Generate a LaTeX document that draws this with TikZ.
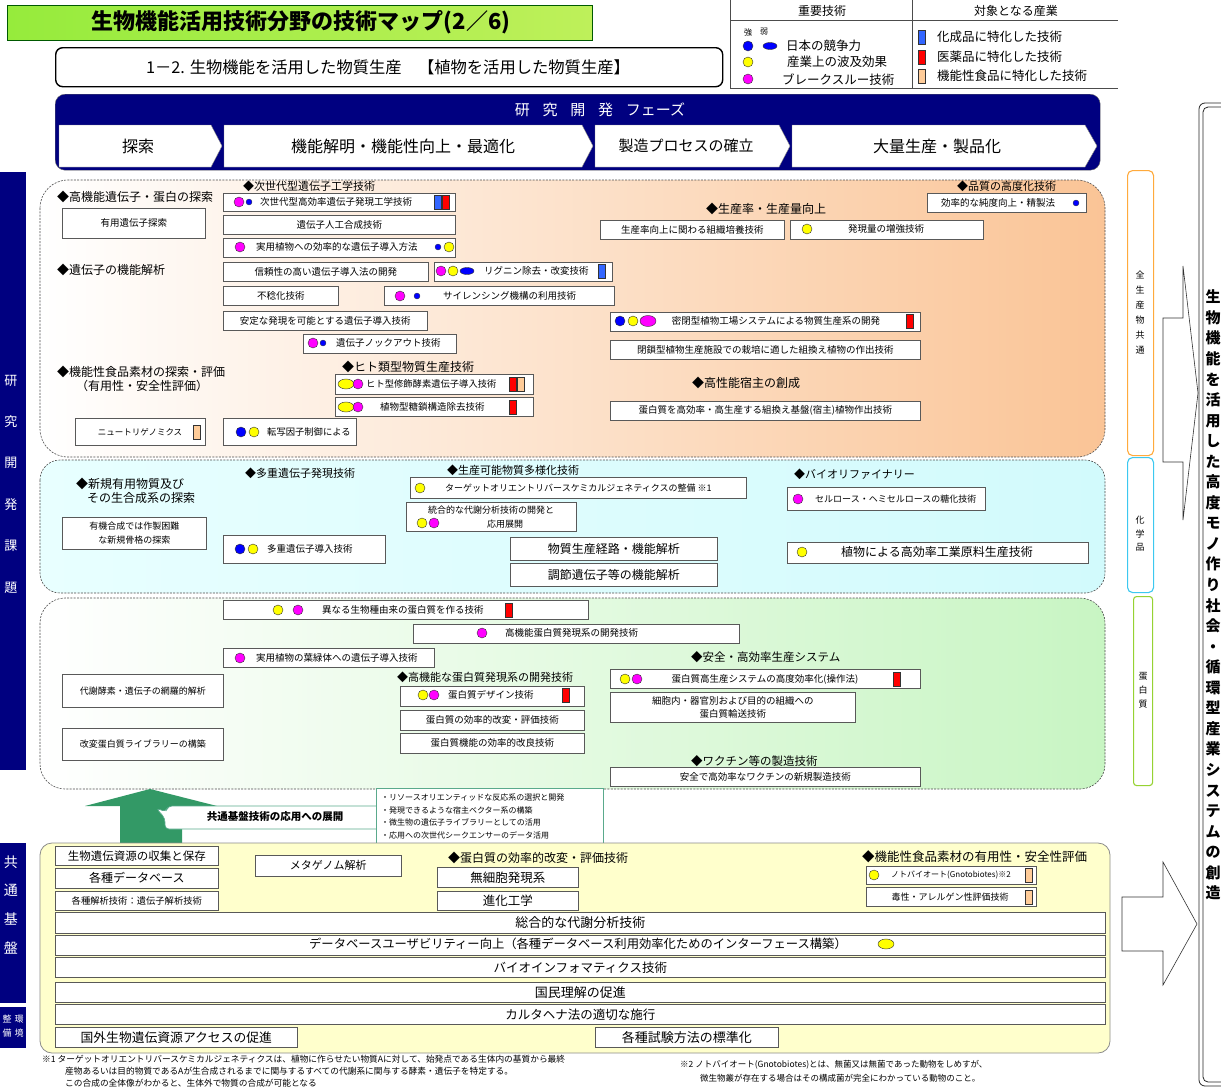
\documentclass[tikz,border=0pt]{standalone}
\usepackage{fontspec}
\setmainfont{Noto Sans CJK JP}
\usetikzlibrary{shadows}
\definecolor{navy}{RGB}{0,0,128}
\definecolor{mblue}{RGB}{0,0,255}
\definecolor{myel}{RGB}{255,255,0}
\definecolor{mmag}{RGB}{255,0,255}
\definecolor{rblue}{RGB}{51,102,255}
\definecolor{rred}{RGB}{255,0,0}
\definecolor{rtan}{RGB}{255,204,153}
\definecolor{peach}{RGB}{250,196,150}
\definecolor{lcyanl}{RGB}{232,255,255}
\definecolor{lcyanr}{RGB}{210,250,252}
\definecolor{lgreen}{RGB}{200,245,195}
\definecolor{lyel}{RGB}{255,255,204}
\definecolor{agreen}{RGB}{51,153,102}
\definecolor{tgreen}{RGB}{90,170,140}
\definecolor{borange}{RGB}{255,170,60}
\definecolor{bcyan}{RGB}{60,200,240}
\definecolor{bgreen}{RGB}{150,210,50}
\definecolor{titl}{RGB}{150,235,60}
\definecolor{titr}{RGB}{190,240,90}
\newcommand\fs[1]{\fontsize{#1}{#1}\selectfont}
\newcommand\bx[7][]{\node[box,#1,minimum width={(#5-#3)*1pt},minimum height={(#6-#4)*1pt},anchor=north west] (#2) at (#3,#4) {#7};}
\newcommand\mkB[2]{\filldraw[fill=mblue,draw=black!80,line width=.4pt] (#1,#2) circle[radius=5pt];}
\newcommand\mkb[2]{\filldraw[fill=mblue,draw=black!80,line width=.3pt] (#1,#2) circle[radius=3pt];}
\newcommand\mkY[2]{\filldraw[fill=myel,draw=black!80,line width=.4pt] (#1,#2) circle[radius=5pt];}
\newcommand\mkM[2]{\filldraw[fill=mmag,draw=black!80,line width=.4pt] (#1,#2) circle[radius=5pt];}
\newcommand\mkEB[2]{\filldraw[fill=mblue,draw=black!80,line width=.4pt] (#1,#2) ellipse[x radius=7pt,y radius=3.5pt];}
\newcommand\mkEY[2]{\filldraw[fill=myel,draw=black!80,line width=.4pt] (#1,#2) ellipse[x radius=8pt,y radius=5pt];}
\newcommand\mkEM[2]{\filldraw[fill=mmag,draw=black!80,line width=.4pt] (#1,#2) ellipse[x radius=8pt,y radius=5.5pt];}
\newcommand\rkB[2]{\filldraw[fill=rblue,draw=black!80,line width=.4pt] (#1-3.5,#2-7) rectangle (#1+3.5,#2+7);}
\newcommand\rkR[2]{\filldraw[fill=rred,draw=black!80,line width=.4pt] (#1-3.5,#2-7) rectangle (#1+3.5,#2+7);}
\newcommand\rkT[2]{\filldraw[fill=rtan,draw=black!80,line width=.4pt] (#1-3.5,#2-7) rectangle (#1+3.5,#2+7);}
\begin{document}
\begin{tikzpicture}[x=1pt,y=-1pt,
  box/.style={draw=black!65,fill=white,line width=.6pt,inner sep=0pt,font=\fs{9.5},
    general shadow={shadow xshift=.9pt,shadow yshift=-.9pt,fill=black!35}},
  txt/.style={inner sep=0pt,anchor=west,font=\fs{9.5}},
  lbl/.style={inner sep=0pt,anchor=west,font=\fs{11.5}},
  wt/.style={inner sep=0pt,text=white},
  sect/.style={draw=black!70,dash pattern=on 2pt off 1.3pt,line width=.6pt},
  chev/.style={fill=white,draw=black!50,line width=.4pt}]
\useasboundingbox (0,0) rectangle (1221,1092);
\fill[white] (0,0) rectangle (1221,1092);

% ---------- title ----------
\shade[left color=titl,middle color=yellow,right color=titr] (7,5) rectangle (592,40);
\draw[green!35!black,line width=.6pt] (7,5) rectangle (592,40);
\node[inner sep=0pt,font=\fs{22}\bfseries] (title) at (301,22) {生物機能活用技術分野の技術マップ(2／6)};
\node[draw,line width=1.4pt,rounded corners=7pt,minimum width=667pt,minimum height=39pt,anchor=north west,inner sep=0pt] (sub) at (55,47) {};
\node[inner sep=0pt,font=\fs{16.3}] (subt) at (388,67) {1－2. 生物機能を活用した物質生産　【植物を活用した物質生産】};

% ---------- legend ----------
\draw[black!70,line width=.6pt] (730,0) -- (730,88) (730,20) -- (1118,20) (730,88) -- (1118,88) (912,0) -- (912,88);
\node[inner sep=0pt,font=\fs{12}] (lh1) at (822,11) {重要技術};
\node[inner sep=0pt,font=\fs{12}] (lh2) at (1016,11) {対象となる産業};
\node[inner sep=0pt,font=\fs{8}] (lstr) at (748,32) {強};
\node[inner sep=0pt,font=\fs{8}] (lweak) at (764,32) {弱};
\mkB{748}{46}\mkEB{770}{46}\mkY{748}{62}\mkM{748}{79}
\node[txt,font=\fs{12.5}] (lt1) at (786,46) {日本の競争力};
\node[txt,font=\fs{12.5}] (lt2) at (787,62) {産業上の波及効果};
\node[txt,font=\fs{12.5}] (lt3) at (782,80) {ブレークスルー技術};
\rkB{922}{37}\rkR{922}{57}\rkT{922}{76}
\node[txt,font=\fs{12.5}] (lt4) at (937,37) {化成品に特化した技術};
\node[txt,font=\fs{12.5}] (lt5) at (937,57) {医薬品に特化した技術};
\node[txt,font=\fs{12.5}] (lt6) at (937,76) {機能性食品に特化した技術};

% ---------- phase bar ----------
\node[fill=navy,draw=black!60,rounded corners=10pt,minimum width=1045pt,minimum height=76pt,anchor=north west,inner sep=0pt] (phase) at (55,94) {};
\node[wt,font=\fs{15}] (phaset) at (600,110) {研\hspace{.85em}究\hspace{.85em}開\hspace{.85em}発\hspace{.85em}フェーズ};
\draw[chev] (59,125) -- (211,125) -- (222,146) -- (211,167) -- (59,167) -- cycle;
\draw[chev] (224,125) -- (582,125) -- (593,146) -- (582,167) -- (224,167) -- cycle;
\draw[chev] (595,125) -- (779,125) -- (790,146) -- (779,167) -- (595,167) -- cycle;
\draw[chev] (792,125) -- (1085,125) -- (1097,146) -- (1085,167) -- (792,167) -- cycle;
\node[inner sep=0pt,font=\fs{16}] (ph1) at (138,146) {探索};
\node[inner sep=0pt,font=\fs{16}] (ph2) at (403,146) {機能解明・機能性向上・最適化};
\node[inner sep=0pt,font=\fs{15}] (ph3) at (686,146) {製造プロセスの確立};
\node[inner sep=0pt,font=\fs{16}] (ph4) at (937,146) {大量生産・製品化};

% ---------- left bars ----------
\node[fill=navy,minimum width=26pt,minimum height=598pt,anchor=north west,inner sep=0pt] (lb1) at (0,172) {};
\node[wt,font=\fs{13}] (v1) at (11,381) {研};
\node[wt,font=\fs{13}] (v2) at (11,422) {究};
\node[wt,font=\fs{13}] (v3) at (11,463) {開};
\node[wt,font=\fs{13}] (v4) at (11,505) {発};
\node[wt,font=\fs{13}] (v5) at (11,546) {課};
\node[wt,font=\fs{13}] (v6) at (11,588) {題};
\node[fill=navy,minimum width=26pt,minimum height=160pt,anchor=north west,inner sep=0pt] (lb2) at (0,843) {};
\node[wt,font=\fs{14}] (w1) at (11,862) {共};
\node[wt,font=\fs{14}] (w2) at (11,890) {通};
\node[wt,font=\fs{14}] (w3) at (11,919) {基};
\node[wt,font=\fs{14}] (w4) at (11,948) {盤};
\node[fill=navy,minimum width=26pt,minimum height=41pt,anchor=north west,inner sep=0pt] (lb3) at (0,1007) {};
\node[wt,font=\fs{9}] (z1) at (7,1019) {整};
\node[wt,font=\fs{9}] (z2) at (19,1019) {環};
\node[wt,font=\fs{9}] (z3) at (7,1033) {備};
\node[wt,font=\fs{9}] (z4) at (19,1033) {境};

% ---------- sections ----------
\shade[left color=white,right color=peach,rounded corners=28pt] (40,180) rectangle (1105,457);
\draw[sect,rounded corners=28pt] (40,180) rectangle (1105,457);
\shade[left color=lcyanl,right color=lcyanr,rounded corners=20pt] (40,460) rectangle (1105,593);
\draw[sect,rounded corners=20pt] (40,460) rectangle (1105,593);
\shade[left color=white,right color=lgreen,rounded corners=25pt] (40,598) rectangle (1105,789);
\draw[sect,rounded corners=25pt] (40,598) rectangle (1105,789);

% ---------- section 1 ----------
\node[lbl,font=\fs{12}] (l1) at (57,197) {◆高機能遺伝子・蛋白の探索};
\bx{b1}{62}{208}{205}{238}{有用遺伝子探索}
\node[lbl,font=\fs{11}] (l2) at (243,186) {◆次世代型遺伝子工学技術};
\bx{a1}{223}{193}{455}{211}{}
\mkM{239}{202}\mkb{249}{202}\rkB{438}{202}\rkR{446}{202}
\node[txt] (a1t) at (260,202) {次世代型高効率遺伝子発現工学技術};
\bx{a2}{223}{215}{455}{234}{遺伝子人工合成技術}
\bx{a3}{223}{238}{455}{257}{}
\mkM{240}{247}\mkb{438}{247}\mkY{449}{247}
\node[txt] (a3t) at (256,247) {実用植物への効率的な遺伝子導入方法};
\node[lbl,font=\fs{12}] (l3) at (57,270) {◆遺伝子の機能解析};
\bx{bb1}{223}{262}{428}{281}{信頼性の高い遺伝子導入法の開発}
\bx{bb2}{434}{262}{612}{281}{}
\mkM{441}{271}\mkY{453}{271}\mkEB{467}{271}\rkB{602}{271}
\node[txt] (bb2t) at (484,271) {リグニン除去・改変技術};
\bx{bb3}{223}{286}{338}{305}{不稔化技術}
\bx{bb4}{384}{286}{614}{305}{}
\mkM{400}{296}\mkb{417}{296}
\node[txt] (bb4t) at (443,296) {サイレンシング機構の利用技術};
\bx{bb5}{223}{311}{427}{330}{安定な発現を可能とする遺伝子導入技術}
\bx{bb6}{303}{334}{456}{353}{}
\mkM{313}{343}\mkb{323}{343}
\node[txt] (bb6t) at (336,343) {遺伝子ノックアウト技術};
\node[lbl,font=\fs{12}] (l4) at (57,372) {◆機能性食品素材の探索・評価};
\node[lbl,font=\fs{12}] (l4b) at (76,386) {（有用性・安全性評価）};
\node[lbl,font=\fs{12}] (l5) at (342,367) {◆ヒト類型物質生産技術};
\bx{c1}{335}{374}{533}{394}{}
\mkEY{346}{384}\mkM{358}{384}\rkR{513}{384}\rkT{521}{384}
\node[txt,font=\fs{9.3}] (c1t) at (366,384) {ヒト型修飾酵素遺伝子導入技術};
\bx{c2}{335}{397}{533}{416}{}
\mkEY{346}{407}\mkM{358}{407}\rkR{513}{407}
\node[txt] (c2t) at (380,407) {植物型糖鎖構造除去技術};
\bx{d1}{75}{418}{205}{445}{}
\rkT{197}{432}
\node[inner sep=0pt,font=\fs{8.5}] (d1t) at (140,432) {ニュートリゲノミクス};
\bx{d2}{223}{418}{356}{445}{}
\mkB{241}{432}\mkY{254}{432}
\node[txt,font=\fs{9.3}] (d2t) at (267,432) {転写因子制御による};
\node[lbl,font=\fs{11}] (l6) at (957,186) {◆品質の高度化技術};
\bx{e1}{927}{193}{1086}{212}{}
\mkb{1076}{203}
\node[inner sep=0pt,font=\fs{9.5}] (e1t) at (998,203) {効率的な純度向上・精製法};
\node[lbl,font=\fs{12}] (l7) at (706,209) {◆生産率・生産量向上};
\bx{f1}{600}{220}{784}{239}{生産率向上に関わる組織培養技術}
\bx{f2}{790}{220}{983}{239}{}
\mkY{807}{229}
\node[inner sep=0pt,font=\fs{9.5}] (f2t) at (886,229) {発現量の増強技術};
\bx{g1}{610}{312}{920}{331}{}
\mkB{620}{321}\mkY{633}{321}\mkEM{648}{321}\rkR{910}{321}
\node[inner sep=0pt,font=\fs{9.5}] (g1t) at (776,321) {密閉型植物工場システムによる物質生産系の開発};
\bx{g2}{610}{340}{920}{359}{閉鎖型植物生産施設での栽培に適した組換え植物の作出技術}
\node[lbl,font=\fs{12}] (l8) at (692,383) {◆高性能宿主の創成};
\bx{h1}{610}{401}{920}{420}{蛋白質を高効率・高生産する組換え基盤(宿主)植物作出技術}

% ---------- section 2 ----------
\node[lbl,font=\fs{12}] (l9) at (76,484) {◆新規有用物質及び};
\node[lbl,font=\fs{12}] (l9b) at (87,498) {その生合成系の探索};
\bx[align=center,font=\fontsize{9}{14}\selectfont]{i1}{62}{517}{206}{549}{有機合成では作製困難\\な新規骨格の探索}
\node[lbl,font=\fs{11}] (l10) at (245,473) {◆多重遺伝子発現技術};
\bx{i2}{223}{535}{385}{563}{}
\mkB{240}{549}\mkY{253}{549}
\node[txt] (i2t) at (267,549) {多重遺伝子導入技術};
\node[lbl,font=\fs{11}] (l11) at (447,470) {◆生産可能物質多様化技術};
\bx{j1}{410}{477}{746}{498}{}
\mkY{420}{488}
\node[txt,font=\fs{9}] (j1t) at (445,488) {ターゲットオリエントリバースケミカルジェネティクスの整備 ※1};
\bx{j2}{406}{502}{576}{531}{}
\mkY{422}{523}\mkM{434}{523}
\node[inner sep=0pt,font=\fs{9}] (j2t) at (491,510) {統合的な代謝分析技術の開発と};
\node[inner sep=0pt,font=\fs{9}] (j2u) at (505,524) {応用展開};
\bx[font=\fs{12}]{j3}{510}{537}{717}{560}{物質生産経路・機能解析}
\bx[font=\fs{12}]{j4}{510}{563}{717}{586}{調節遺伝子等の機能解析}
\node[lbl,font=\fs{11}] (l12) at (794,474) {◆バイオリファイナリー};
\bx{k1}{787}{487}{985}{510}{}
\mkM{798}{499}
\node[txt,font=\fs{9}] (k1t) at (815,499) {セルロース・ヘミセルロースの糖化技術};
\bx{k2}{787}{542}{1088}{563}{}
\mkY{802}{552}
\node[inner sep=0pt,font=\fs{12}] (k2t) at (937,552) {植物による高効率工業原料生産技術};

% ---------- section 3 ----------
\bx{m1a}{223}{600}{588}{619}{}
\mkY{278}{610}\mkM{298}{610}\rkR{509}{610}
\node[txt] (m1at) at (322,610) {異なる生物種由来の蛋白質を作る技術};
\bx{m1b}{413}{624}{739}{643}{}
\mkM{482}{633}
\node[txt] (m1bt) at (505,633) {高機能蛋白質発現系の開発技術};
\bx{m1c}{223}{648}{434}{667}{}
\mkM{240}{658}
\node[txt] (m1ct) at (256,658) {実用植物の葉緑体への遺伝子導入技術};
\node[lbl,font=\fs{11.5}] (l13) at (691,657) {◆安全・高効率生産システム};
\node[lbl,font=\fs{11}] (l14) at (397,677) {◆高機能な蛋白質発現系の開発技術};
\bx[font=\fs{9}]{m1}{62}{674}{223}{707}{代謝酵素・遺伝子の網羅的解析}
\bx[font=\fs{9}]{m2}{62}{728}{223}{760}{改変蛋白質ライブラリーの構築}
\bx{n1}{400}{686}{584}{706}{}
\mkY{423}{695}\mkM{434}{695}\rkR{566}{695}
\node[txt] (n1t) at (448,695) {蛋白質デザイン技術};
\bx{n2}{400}{710}{584}{730}{蛋白質の効率的改変・評価技術}
\bx{n3}{400}{733}{584}{753}{蛋白質機能の効率的改良技術}
\bx{o1}{610}{669}{920}{688}{}
\mkY{625}{679}\mkM{637}{679}\rkR{897}{679}
\node[inner sep=0pt,font=\fs{9.5}] (o1t) at (765,679) {蛋白質高生産システムの高度効率化(操作法)};
\bx[align=center,font=\fontsize{9.5}{13.5}\selectfont]{o2}{610}{692}{855}{722}{細胞内・器官別および目的の組織への\\蛋白質輸送技術}
\node[lbl,font=\fs{11.5}] (l15) at (691,761) {◆ワクチン等の製造技術};
\bx{p1}{610}{767}{920}{786}{安全で高効率なワクチンの新規製造技術}

% ---------- middle ----------
\fill[agreen] (150,789) -- (217,806) -- (182,806) -- (182,843) -- (120,843) -- (120,806) -- (85,806) -- cycle;
\filldraw[fill=white,draw=tgreen,line width=.6pt,rounded corners=4pt] (168,806) -- (383,806) -- (383,829) -- (165,829) -- (165,818) -- (156,808) -- (166,812) -- cycle;
\node[inner sep=0pt,font=\fs{10.5}\bfseries] (cb) at (275,817) {共通基盤技術の応用への展開};
\node[draw=tgreen,fill=white,line width=.6pt,minimum width=227pt,minimum height=55pt,anchor=north west,inner sep=0pt] (blist) at (376,788) {};
\node[txt,font=\fs{8}] (bl1) at (381,797) {・リソースオリエンティッドな反応系の選択と開発};
\node[txt,font=\fs{8}] (bl2) at (381,810) {・発現できるような宿主ベクター系の構築};
\node[txt,font=\fs{8}] (bl3) at (381,822) {・微生物の遺伝子ライブラリーとしての活用};
\node[txt,font=\fs{8}] (bl4) at (381,835) {・応用への次世代シークエンサーのデータ活用};

% ---------- bottom ----------
\filldraw[fill=lyel,draw=black!45,line width=.8pt,rounded corners=12pt] (40,843) rectangle (1110,1053);
\bx[font=\fs{11.5}]{q1}{55}{846}{218}{865}{生物遺伝資源の収集と保存}
\bx[font=\fs{12}]{q2}{55}{868}{218}{888}{各種データベース}
\bx[font=\fs{9.3}]{q3}{55}{891}{218}{910}{各種解析技術：遺伝子解析技術}
\bx[font=\fs{11}]{q4}{255}{855}{401}{876}{メタゲノム解析}
\node[lbl,font=\fs{12}] (l16) at (448,858) {◆蛋白質の効率的改変・評価技術};
\bx[font=\fs{12.5}]{q5}{437}{867}{578}{887}{無細胞発現系}
\bx[font=\fs{12.5}]{q6}{437}{891}{578}{910}{進化工学}
\node[lbl,font=\fs{12.5}] (l17) at (862,857) {◆機能性食品素材の有用性・安全性評価};
\bx{q7}{866}{866}{1036}{884}{}
\mkY{874}{875}\rkT{1029}{875}
\node[txt,font=\fs{8}] (q7t) at (891,875) {ノトバイオート(Gnotobiotes)※2};
\bx{q8}{866}{887}{1036}{906}{}
\rkT{1029}{897}
\node[inner sep=0pt,font=\fs{9}] (q8t) at (950,897) {毒性・アレルゲン性評価技術};
\bx[font=\fs{13}]{r1}{55}{912}{1105}{933}{総合的な代謝分析技術}
\bx[font=\fs{12.3}]{r2}{55}{935}{1105}{955}{}
\node[inner sep=0pt,font=\fs{12.3}] (r2t) at (578,944) {データベースユーザビリティー向上（各種データベース利用効率化ためのインターフェース構築）};
\mkEY{886}{944}
\bx[font=\fs{12.5}]{r3}{55}{957}{1105}{977}{バイオインフォマティクス技術}
\bx[font=\fs{13}]{s1}{55}{982}{1105}{1002}{国民理解の促進}
\bx[font=\fs{12.5}]{s2}{55}{1004}{1105}{1024}{カルタヘナ法の適切な施行}
\bx[font=\fs{12.8}]{s3}{55}{1027}{297}{1047}{国外生物遺伝資源アクセスの促進}
\bx[font=\fs{13}]{s4}{595}{1027}{778}{1047}{各種試験方法の標準化}

% ---------- footnotes ----------
\node[txt,font=\fs{8.7}] (fn1) at (42,1059) {※1 ターゲットオリエントリバースケミカルジェネティクスは、植物に作らせたい物質Aに対して、始発点である生体内の基質から最終};
\node[txt,font=\fs{8.7}] (fn2) at (65,1071) {産物あるいは目的物質であるAが生合成されるまでに関与するすべての代謝系に関与する酵素・遺伝子を特定する。};
\node[txt,font=\fs{8.7}] (fn3) at (65,1083) {この合成の全体像がわかると、生体外で物質の合成が可能となる};
\node[txt,font=\fs{8.5}] (fn4) at (680,1065) {※2 ノトバイオート(Gnotobiotes)とは、無菌又は無菌であった動物をしめすが、};
\node[txt,font=\fs{8.5}] (fn5) at (700,1078) {微生物叢が存在する場合はその構成菌が完全にわかっている動物のこと。};

% ---------- right side ----------
\node[draw=borange,line width=1.1pt,rounded corners=5pt,minimum width=26pt,minimum height=285pt,anchor=north west,inner sep=0pt] (rs1) at (1127,170) {};
\node[inner sep=0pt,align=center,font=\fontsize{9}{15}\selectfont] (rs1t) at (1140,313) {全\\生\\産\\物\\共\\通};
\node[draw=bcyan,line width=1.1pt,rounded corners=5pt,minimum width=26pt,minimum height=135pt,anchor=north west,inner sep=0pt] (rs2) at (1127,457) {};
\node[inner sep=0pt,align=center,font=\fontsize{9}{13.5}\selectfont] (rs2t) at (1140,534) {化\\学\\品};
\node[draw=bgreen,line width=1.1pt,rounded corners=3pt,minimum width=19pt,minimum height=189pt,anchor=north west,inner sep=0pt] (rs3) at (1133,596) {};
\node[inner sep=0pt,align=center,font=\fontsize{9}{14}\selectfont] (rs3t) at (1143,690) {蛋\\白\\質};
\filldraw[fill=white,draw=black!80,line width=.6pt] (1163,318) -- (1183,318) -- (1183,266) -- (1198,393) -- (1183,520) -- (1183,462) -- (1163,462) -- cycle;
\filldraw[fill=white,draw=black!80,line width=.6pt] (1122,897) -- (1163,897) -- (1163,862) -- (1197,924) -- (1163,985) -- (1163,951) -- (1122,951) -- cycle;
\draw[black!85,line width=.8pt,rounded corners=6pt] (1199,103) rectangle (1250,1086);
\draw[black!85,line width=.8pt,rounded corners=5pt] (1203,107) rectangle (1250,1082);
\node[inner sep=0pt,align=center,font=\fontsize{15}{20.55}\selectfont\bfseries] (rbig) at (1213,595) {生\\物\\機\\能\\を\\活\\用\\し\\た\\高\\度\\モ\\ノ\\作\\り\\社\\会\\・\\循\\環\\型\\産\\業\\シ\\ス\\テ\\ム\\の\\創\\造};
\end{tikzpicture}
\end{document}
